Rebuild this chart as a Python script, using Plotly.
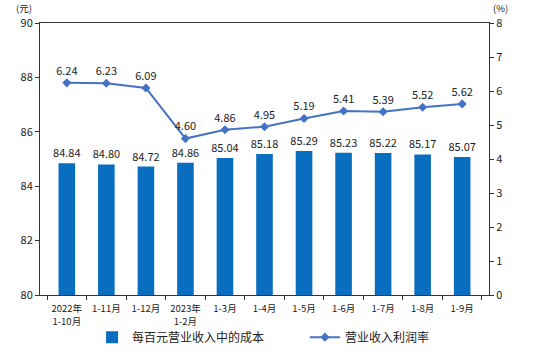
import plotly.graph_objects as go

categories = ["2022年<br>1-10月", "1-11月", "1-12月", "2023年<br>1-2月", "1-3月", "1-4月",
              "1-5月", "1-6月", "1-7月", "1-8月", "1-9月"]
cost = [84.84, 84.80, 84.72, 84.86, 85.04, 85.18, 85.29, 85.23, 85.22, 85.17, 85.07]
margin = [6.24, 6.23, 6.09, 4.60, 4.86, 4.95, 5.19, 5.41, 5.39, 5.52, 5.62]

FONT = "Noto Sans CJK SC"
fig = go.Figure()
fig.add_trace(go.Bar(
    x=categories, y=[c - 80 for c in cost], base=80, name="每百元营业收入中的成本",
    marker=dict(color="#0A6EC0", line=dict(width=0)), width=0.42,
    text=[f"{v:.2f}" for v in cost], textposition="outside", cliponaxis=False,
    constraintext="none", textangle=0,
    textfont=dict(size=11, color="#222"), yaxis="y", legend="legend",
))
fig.add_trace(go.Scatter(
    x=categories, y=margin, name="营业收入利润率", mode="lines+markers+text",
    line=dict(color="#4472C4", width=2), marker=dict(symbol="diamond", size=7, color="#4472C4"),
    text=[f"{v:.2f}" for v in margin], textposition="top center",
    textfont=dict(size=11, color="#222"), yaxis="y2", cliponaxis=False, legend="legend2",
))
fig.update_layout(
    width=536, height=352, margin=dict(l=40, r=47, t=23, b=57, autoexpand=False),
    paper_bgcolor="white", plot_bgcolor="white",
    font=dict(family=FONT, size=11, color="#222"),
    bargap=0.5,
    xaxis=dict(type="category", showline=True, linecolor="#333", linewidth=1, mirror=True,
               ticks="outside", ticklen=4, tickson="boundaries", tickcolor="#333",
               tickangle=0, tickfont=dict(size=9.5), showgrid=False, automargin=False,
               ticklabelstandoff=5),
    yaxis=dict(range=[80, 90], dtick=2, showline=True, linecolor="#333", linewidth=1,
               ticks="outside", ticklen=4, tickcolor="#333", showgrid=False, zeroline=False,
               tickfont=dict(size=11), automargin=False),
    yaxis2=dict(range=[0, 8], dtick=1, overlaying="y", side="right", showline=True,
                linecolor="#333", linewidth=1, ticks="outside", ticklen=4, tickcolor="#333",
                showgrid=False, zeroline=False, tickfont=dict(size=11), automargin=False),
    legend=dict(x=0.116, xanchor="left", y=-0.155, yanchor="middle",
                font=dict(size=12), bgcolor="rgba(0,0,0,0)"),
    legend2=dict(x=0.59, xanchor="left", y=-0.155, yanchor="middle",
                 font=dict(size=12), bgcolor="rgba(0,0,0,0)"),
    showlegend=True,
)
fig.add_annotation(text="(元)", x=0, xref="paper", xanchor="right", xshift=-6,
                   y=1, yref="paper", yanchor="bottom", yshift=6, showarrow=False, font=dict(size=9.5))
fig.add_annotation(text="(%)", x=1, xref="paper", xanchor="left", xshift=2,
                   y=1, yref="paper", yanchor="bottom", yshift=6, showarrow=False, font=dict(size=9.5))
fig.write_html("out.html")
